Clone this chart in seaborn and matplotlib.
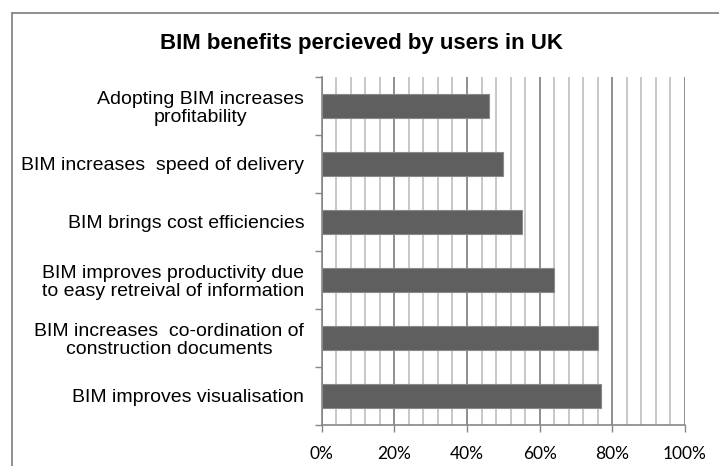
import matplotlib
matplotlib.use("Agg")
import matplotlib.pyplot as plt
import seaborn as sns
import pandas as pd
from matplotlib.lines import Line2D
from matplotlib.ticker import MultipleLocator, FixedLocator

categories = [
    "Adopting BIM increases\nprofitability",
    "BIM increases  speed of delivery",
    "BIM brings cost efficiencies",
    "BIM improves productivity due\nto easy retreival of information",
    "BIM increases  co-ordination of\nconstruction documents",
    "BIM improves visualisation",
]
values = [46, 50, 55, 64, 76, 77]
x_ticks = [0, 20, 40, 60, 80, 100]
x_tick_labels = ["0%", "20%", "40%", "60%", "80%", "100%"]
title = "BIM benefits percieved by users in UK"

sns.set_theme(style="white")
plt.rcParams["font.family"] = ["Liberation Sans", "DejaVu Sans"]

df = pd.DataFrame({"benefit": categories, "pct": values})

W, H = 719, 466
fig = plt.figure(figsize=(W / 100, H / 100), dpi=100)
ax = fig.add_axes([321.7 / W, 1 - 425 / H, (685 - 321.7) / W, (425 - 77) / H])

sns.barplot(data=df, y="benefit", x="pct", orient="h", color="#5f5f5f",
            saturation=1, width=0.40, edgecolor="#8a8a8a", linewidth=0.8, ax=ax)

ax.set_xlim(0, 100)
ax.set_ylim(len(categories) - 0.5, -0.5)
ax.set_axisbelow(True)

# gridlines
ax.xaxis.set_major_locator(FixedLocator(x_ticks))
ax.xaxis.set_minor_locator(MultipleLocator(4))
ax.grid(False)
ax.grid(axis="x", which="minor", color="#c3c3c3", linewidth=1.3)
ax.grid(axis="x", which="major", color="#878787", linewidth=1.3)

ax.set_xticklabels(x_tick_labels, fontfamily=["Lato", "DejaVu Sans"], fontsize=12.5, color="black")
ax.tick_params(axis="x", which="major", direction="out", length=5, width=1, color="#878787",
               pad=10, bottom=True)
ax.tick_params(axis="x", which="minor", length=0)

# y: labels at centers, ticks at boundaries
ax.tick_params(axis="y", which="major", length=0, pad=12.5, labelsize=14, labelcolor="black")
ax.yaxis.set_minor_locator(FixedLocator([i - 0.5 for i in range(len(categories) + 1)]))
ax.tick_params(axis="y", which="minor", direction="out", length=5, width=1, color="#878787", left=True)
for t in ax.get_yticklabels():
    t.set_multialignment("center")
    t.set_linespacing(1.05)

ax.set_xlabel("")
ax.set_ylabel("")
for s in ["top", "right"]:
    ax.spines[s].set_visible(False)
for s in ["left", "bottom"]:
    ax.spines[s].set_color("#878787")
    ax.spines[s].set_linewidth(1.2)

fig.text(362 / W, 1 - 44 / H, title, ha="center", va="center", fontsize=16,
         fontweight="bold", family=["Liberation Sans", "DejaVu Sans"], color="black")

# outer chart border (cropped)
fig.add_artist(Line2D([12 / W, 1], [1 - 13 / H, 1 - 13 / H], transform=fig.transFigure,
                      color="#878787", linewidth=1.3))
fig.add_artist(Line2D([12 / W, 12 / W], [0, 1 - 13 / H], transform=fig.transFigure,
                      color="#878787", linewidth=1.3))

fig.savefig("out.png", dpi=100)
